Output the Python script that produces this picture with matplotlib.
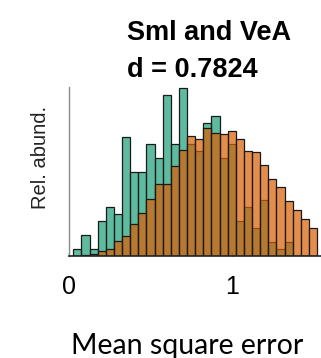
import numpy as np
import matplotlib
matplotlib.use("Agg")
import matplotlib.pyplot as plt
from matplotlib.colors import to_rgba

# Histogram bins (bin centres, mean square error)
bin_centres = [0.05 * k for k in range(1, 31)]
bin_width = 0.05

# Relative abundance per bin for each group (common arbitrary units)
sml = [1, 3, 1, 5, 7, 6, 17, 12, 12, 16, 14, 23, 16, 24, 16,
       15, 19, 20, 14, 16, 5, 7, 4, 8, 2, 1, 2, 0, 0, 0]
vea = [0.07, 0.14, 0.29, 0.67, 0.96, 2.19, 2.81, 4.61, 6.14, 8.10,
       10.33, 10.33, 12.90, 15.10, 17.14, 16.67, 18.29, 17.50, 17.43, 17.86,
       16.64, 14.97, 14.81, 12.93, 11.03, 9.86, 7.86, 6.57, 5.29, 3.93]

xticks = [0, 1]
xtick_labels = ["0", "1"]
title_lines = ["Sml and VeA", "d = 0.7824"]

W, H = 321, 358
fig = plt.figure(figsize=(W / 100, H / 100), dpi=100)

def px(x, y):
    return x / W, 1 - y / H

ax_left, ax_right, ax_top, ax_bottom = 69.2, 321, 87, 256
ax = fig.add_axes([ax_left / W, 1 - ax_bottom / H,
                   (ax_right - ax_left) / W, (ax_bottom - ax_top) / H])

green = to_rgba("#1b9e77", 0.7)
orange = to_rgba("#d95f02", 0.7)

ax.bar(bin_centres, sml, width=bin_width, color=green,
       edgecolor="#1a1a1a", linewidth=0.9, zorder=2)
ax.bar(bin_centres, vea, width=bin_width, color=orange,
       edgecolor="#1a1a1a", linewidth=0.9, zorder=3)

ax.set_xlim(0, (ax_right - ax_left) / 162.5)
ax.set_ylim(0, max(sml) * 1.004)

for s in ("top", "right"):
    ax.spines[s].set_visible(False)
ax.spines["left"].set_color("#8c8c8c")
ax.spines["left"].set_linewidth(1.0)
ax.spines["bottom"].set_color("#222222")
ax.spines["bottom"].set_linewidth(1.2)
ax.spines["bottom"].set_zorder(5)

ax.set_yticks([])
ax.set_xticks(xticks)
ax.set_xticklabels(xtick_labels, fontfamily="Liberation Sans", fontsize=18)
ax.tick_params(axis="x", direction="in", length=3, width=0.8,
               color="#333333", pad=14)

sans = "Liberation Sans"
fig.text(*px(127, 40), title_lines[0], ha="left", va="baseline",
         fontfamily=sans, fontweight="bold", fontsize=19.5)
fig.text(*px(127, 77), title_lines[1], ha="left", va="baseline",
         fontfamily=sans, fontweight="bold", fontsize=19.5)

fig.text(*px(41, 157), "Rel. abund.", rotation=90, ha="center",
         va="center", fontfamily=sans, fontsize=14.5, color="#222222")

fig.text(*px(187.5, 354), "Mean square error", ha="center",
         va="baseline", fontfamily="Lato", fontsize=20.5)

fig.savefig("out.png", dpi=100)
